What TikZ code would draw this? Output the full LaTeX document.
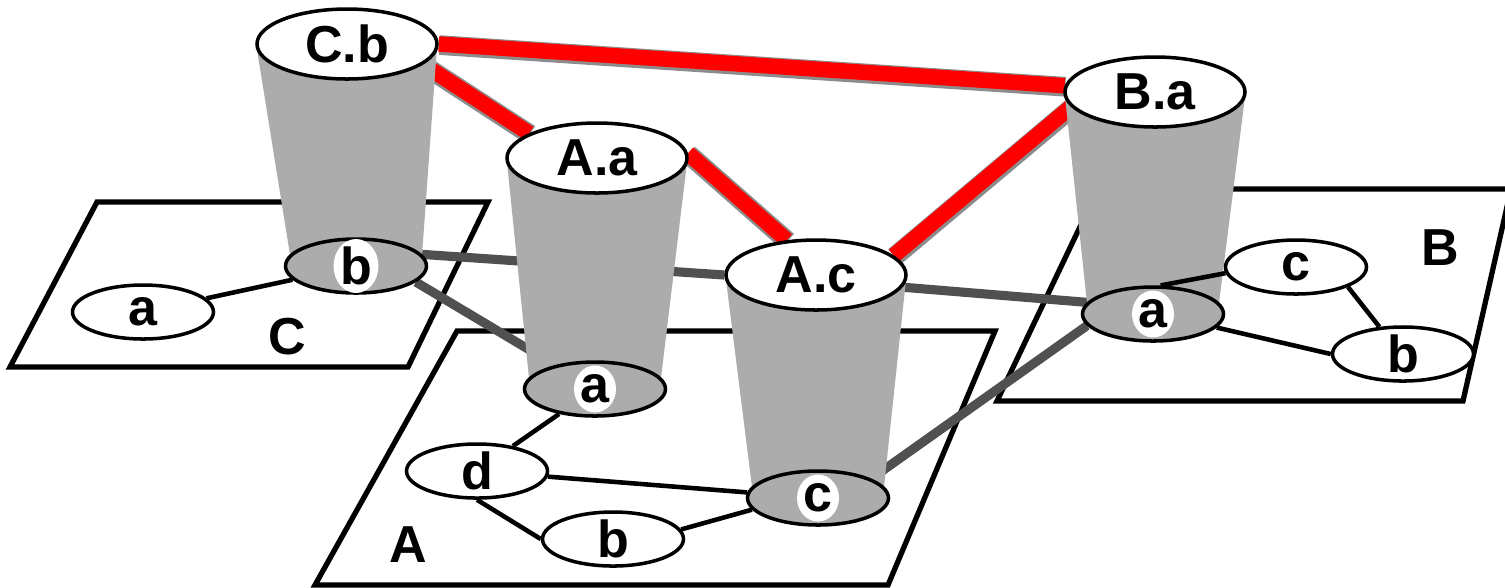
\documentclass[tikz,border=0pt]{standalone}
\usepackage{fontspec}
\setmainfont{Liberation Sans}
\usepackage{tikz}
\usetikzlibrary{shapes.geometric}
\definecolor{cCone}{RGB}{172,172,172}
\definecolor{cLink}{RGB}{80,80,80}
\definecolor{cShade}{RGB}{140,140,140}
\definecolor{cRed}{RGB}{255,0,0}
\pgfdeclarelayer{bg}
\pgfdeclarelayer{mid}
\pgfsetlayers{bg,mid,main}

\begin{document}
\begin{tikzpicture}[x=0.1mm,y=-0.1mm,
    every node/.style={font=\fontsize{14.8}{17}\selectfont\bfseries},
    plane/.style={draw,line width=1.5pt,fill=white,line join=miter},
    rimtop/.style={ellipse,draw,line width=1pt,fill=white,inner sep=0pt,minimum width=1.8cm,minimum height=0.7cm},
    rimbot/.style={ellipse,draw,line width=1pt,fill=cCone,inner sep=0pt,minimum width=1.41cm,minimum height=0.54cm},
    leaf/.style={ellipse,draw,line width=1pt,fill=white,inner sep=0pt,minimum width=1.41cm,minimum height=0.54cm},
    hilite/.style={ellipse,fill=white,inner sep=0pt,minimum width=0.42cm,minimum height=0.47cm},
    cone/.style={fill=cCone},
    wire/.style={line width=1.3pt},
    xlink/.style={draw=cLink,line width=2.6pt},
    rlink/.style={draw=cRed,line width=4.4pt,preaction={draw=cShade,line width=5.6pt,transform canvas={xshift=0.2pt,yshift=-0.3pt}}}]
  \useasboundingbox (0,0) rectangle (1505,587);

  \begin{pgfonlayer}{bg}
    \draw[plane] (97,202) -- (488,202) -- (408,367) -- (10,367) -- cycle;
    \draw[plane] (457,331) -- (995,331) -- (888,585) -- (315,585) -- cycle;
    \draw[plane] (1098,189) -- (1511,189) -- (1463,401) -- (997,401) -- cycle;
  \end{pgfonlayer}
  \node (Clbl) at (287,337) {C};
  \node (Albl) at (408,545) {A};
  \node (Blbl) at (1440,248) {B};

  \node[rimtop] (Cb) at (347,44) {C.b};
  \node[rimbot] (Cblow) at (356,266) {};
  \node[hilite] (Cbtxt) at (Cblow) {b};
  \node[rimtop] (Aa) at (597,158) {A.a};
  \node[rimbot] (Aalow) at (595,389) {};
  \node[hilite] (Aatxt) at (Aalow) {a};
  \node[rimtop] (Ac) at (816,275) {A.c};
  \node[rimbot] (Aclow) at (818,498) {};
  \node[hilite] (Actxt) at (Aclow) {c};
  \node[rimtop] (Ba) at (1155,92) {B.a};
  \node[rimbot] (Balow) at (1153,314) {};
  \node[hilite] (Batxt) at (Balow) {a};

  \node[leaf] (Ca) at (143,312) {a};
  \node[leaf] (Ad) at (477,471) {d};
  \node[leaf] (Ab) at (613,539) {b};
  \node[leaf] (Bc) at (1296,267) {c};
  \node[leaf] (Bb) at (1403,354) {b};

  \begin{pgfonlayer}{mid}
    \path[cone] (Cb.185) -- (Cblow.170) -- (Cblow.10) -- (Cb.-5) -- cycle;
    \path[cone] (Aa.185) -- (Aalow.170) -- (Aalow.10) -- (Aa.-5) -- cycle;
    \path[cone] (Ac.185) -- (Aclow.170) -- (Aclow.10) -- (Ac.-5) -- cycle;
    \path[cone] (Ba.185) -- (Balow.170) -- (Balow.10) -- (Ba.-5) -- cycle;
  \end{pgfonlayer}

  \begin{pgfonlayer}{bg}
    \draw[xlink] (Cblow.10) -- (Ac.west);
    \draw[xlink] (Cblow.-15) -- (Aalow);
    \draw[xlink] (Ac.-8) -- (Balow.170);
    \draw[xlink] (Aclow.20) -- (Balow.190);
    \draw[rlink] (Cb.east) -- (Ba.176);
    \draw[rlink] (Cb.-15) -- (Aa.160);
    \draw[rlink] (Aa.3) -- (Ac.130);
    \draw[rlink] (Ac.14) -- (Ba.190);
  \end{pgfonlayer}

  \draw[wire] (Ca) -- (Cblow);
  \draw[wire] (Aalow) -- (Ad);
  \draw[wire] (Ad) -- (Aclow);
  \draw[wire] (Ad.south) -- (Ab.west);
  \draw[wire] (Ab.8) -- (Aclow.190);
  \draw[wire] (Balow.75) -- (Bc.185);
  \draw[wire] (Bc.-21) -- (Bb.131);
  \draw[wire] (Balow.-12) -- (Bb.west);
\end{tikzpicture}
\end{document}
